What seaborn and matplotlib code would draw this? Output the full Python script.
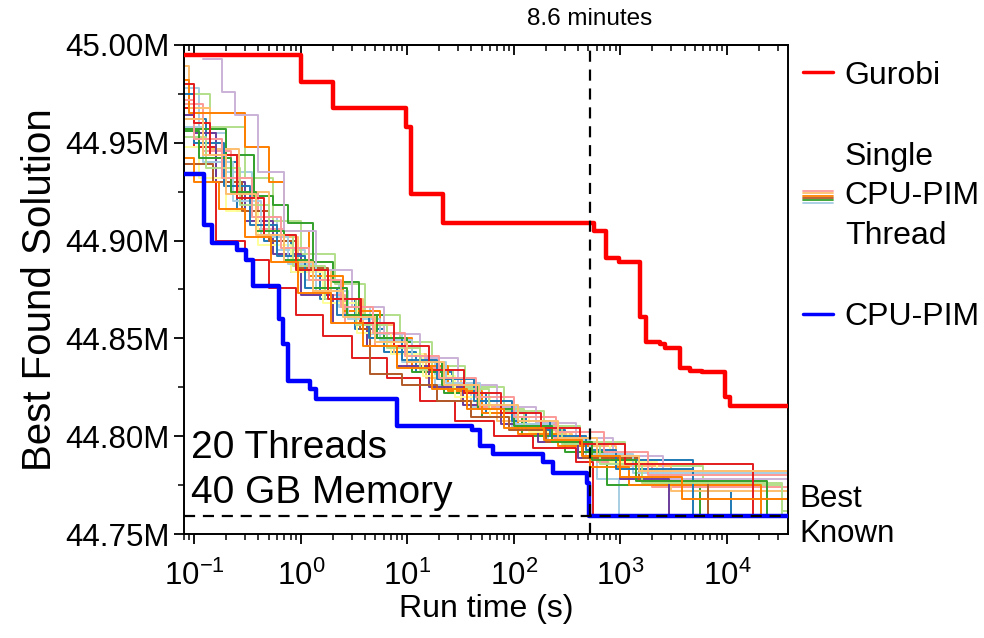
import matplotlib
matplotlib.use("Agg")
import matplotlib.pyplot as plt
import matplotlib.transforms as mtransforms
from matplotlib.lines import Line2D
from matplotlib.legend_handler import HandlerBase
from matplotlib.ticker import FuncFormatter, MultipleLocator
import pandas as pd
import seaborn as sns

# Gurobi run (seconds, best objective in millions)
gurobi_t = [0.08, 1.0, 2.0, 9.8, 10.8, 21.8, 564, 731, 980, 1524, 1734, 2350,
            2617, 3614, 4487, 5780, 9550, 10650, 40000]
gurobi_v = [44.995, 44.981, 44.968, 44.958, 44.924, 44.909, 44.905, 44.891,
            44.889, 44.861, 44.848, 44.847, 44.845, 44.835, 44.8335, 44.833,
            44.820, 44.8155, 44.8155]

# CPU-PIM with 20 threads
cpupim_t = [0.08, 0.122, 0.148, 0.251, 0.307, 0.359, 0.63, 0.687, 0.765, 1.22,
            1.38, 7.94, 40.2, 48, 63, 186, 235, 482, 505, 40000]
cpupim_v = [44.934, 44.908, 44.899, 44.895, 44.890, 44.877, 44.860, 44.847,
            44.828, 44.824, 44.819, 44.805, 44.803, 44.795, 44.791, 44.787,
            44.781, 44.776, 44.759, 44.759]

# single CPU-PIM threads
single_t = [
    [0.08, 0.11, 0.2, 0.35, 0.6, 1.1, 2.3, 4.5, 9, 18, 40, 95, 210, 480, 600, 960, 40000],
    [0.08, 0.13, 0.25, 0.45, 0.8, 1.5, 3.2, 6, 12, 26, 55, 130, 300, 700, 4800, 11000, 40000],
    [0.08, 0.14, 0.3, 0.55, 1.0, 2.1, 4.0, 8.5, 17, 35, 80, 190, 420, 1100, 6000, 33000, 40000],
    [0.08, 0.2, 0.36, 0.55, 0.75, 1.3, 2.0, 3.5, 6, 11, 22, 50, 120, 300, 750, 5600, 40000],
    [0.08, 0.12, 0.22, 0.4, 0.7, 1.3, 2.6, 5, 10, 21, 45, 100, 240, 600, 2000, 40000],
    [0.08, 0.1, 0.16, 0.3, 0.5, 0.9, 1.6, 3, 6.5, 13, 28, 65, 150, 380, 550, 40000],
    [0.08, 0.09, 0.14, 0.26, 0.5, 0.95, 1.9, 3.8, 7.5, 15, 32, 70, 160, 350, 900, 3000, 40000],
    [0.08, 0.09, 0.3, 0.5, 0.7, 1.2, 2.5, 5.5, 11, 24, 50, 110, 260, 520, 1200, 21000, 40000],
    [0.12, 0.18, 0.24, 0.4, 0.7, 1.4, 3, 6, 13, 30, 70, 160, 380, 850, 2500, 40000],
    [0.08, 0.1, 0.16, 0.3, 0.55, 1.0, 2.0, 4.2, 8, 16, 33, 75, 170, 400, 1000, 2850, 40000],
    [0.08, 0.11, 0.2, 0.4, 0.8, 1.6, 3.4, 7, 14, 28, 60, 140, 320, 800, 2200, 40000],
    [0.08, 0.15, 0.28, 0.5, 0.9, 1.8, 3.6, 4.5, 9, 19, 40, 90, 200, 450, 1500, 6700, 40000],
    [0.08, 0.12, 0.23, 0.42, 0.75, 1.4, 2.8, 5.5, 11, 23, 48, 105, 230, 520, 1300, 40000],
    [0.08, 0.1, 0.19, 0.33, 0.6, 1.1, 2.2, 4.4, 9, 19, 42, 95, 220, 480, 900, 4800, 40000],
    [0.08, 0.13, 0.27, 0.5, 0.85, 1.7, 3.3, 6.5, 13, 27, 58, 125, 280, 640, 1600, 33000, 40000],
    [0.08, 0.11, 0.22, 0.38, 0.7, 1.3, 2.7, 5.2, 10, 21, 46, 100, 230, 540, 1400, 24000, 40000],
    [0.08, 0.1, 0.18, 0.35, 0.65, 1.2, 2.4, 4.8, 9.5, 20, 44, 100, 250, 700, 1800, 40000],
    [0.08, 0.1, 0.14, 0.25, 0.45, 0.9, 1.8, 3.7, 7.5, 16, 34, 75, 180, 420, 1100, 17500, 40000],
    [0.08, 0.12, 0.2, 0.38, 0.7, 1.3, 2.5, 5, 10, 22, 47, 110, 260, 600, 1500, 40000],
    [0.08, 0.1, 0.17, 0.3, 0.52, 0.95, 1.9, 3.8, 8, 17, 36, 80, 190, 440, 1000, 3800, 40000],
]
single_v = [
    [44.978, 44.955, 44.935, 44.912, 44.895, 44.880, 44.866, 44.852, 44.838, 44.826, 44.815, 44.804, 44.797, 44.790, 44.778, 44.759, 44.759],
    [44.962, 44.940, 44.915, 44.900, 44.884, 44.870, 44.855, 44.843, 44.833, 44.822, 44.812, 44.803, 44.796, 44.788, 44.772, 44.759, 44.759],
    [44.975, 44.958, 44.932, 44.910, 44.893, 44.878, 44.862, 44.848, 44.836, 44.825, 44.813, 44.805, 44.797, 44.785, 44.775, 44.759, 44.759],
    [44.957, 44.944, 44.923, 44.918, 44.909, 44.889, 44.879, 44.862, 44.848, 44.833, 44.822, 44.810, 44.800, 44.792, 44.775, 44.759, 44.759],
    [44.970, 44.946, 44.925, 44.906, 44.890, 44.872, 44.858, 44.846, 44.835, 44.826, 44.815, 44.806, 44.799, 44.787, 44.774, 44.774],
    [44.968, 44.948, 44.900, 44.890, 44.876, 44.862, 44.851, 44.840, 44.830, 44.818, 44.808, 44.800, 44.794, 44.787, 44.759, 44.759],
    [44.989, 44.968, 44.947, 44.925, 44.902, 44.885, 44.870, 44.857, 44.842, 44.830, 44.818, 44.808, 44.801, 44.795, 44.785, 44.772, 44.772],
    [44.982, 44.965, 44.948, 44.930, 44.905, 44.882, 44.864, 44.850, 44.836, 44.823, 44.812, 44.801, 44.795, 44.784, 44.775, 44.759, 44.759],
    [44.993, 44.976, 44.964, 44.935, 44.905, 44.885, 44.866, 44.852, 44.840, 44.826, 44.815, 44.807, 44.799, 44.790, 44.778, 44.778],
    [44.964, 44.955, 44.930, 44.910, 44.893, 44.872, 44.858, 44.846, 44.836, 44.825, 44.816, 44.806, 44.797, 44.789, 44.778, 44.759, 44.759],
    [44.948, 44.932, 44.915, 44.898, 44.884, 44.868, 44.853, 44.842, 44.831, 44.820, 44.810, 44.802, 44.796, 44.787, 44.780, 44.780],
    [44.939, 44.930, 44.915, 44.900, 44.886, 44.870, 44.855, 44.832, 44.826, 44.818, 44.810, 44.803, 44.797, 44.789, 44.777, 44.759, 44.759],
    [44.958, 44.940, 44.920, 44.902, 44.888, 44.874, 44.860, 44.849, 44.838, 44.827, 44.816, 44.806, 44.798, 44.791, 44.781, 44.781],
    [44.975, 44.950, 44.928, 44.908, 44.892, 44.876, 44.862, 44.850, 44.839, 44.829, 44.818, 44.808, 44.800, 44.793, 44.783, 44.759, 44.759],
    [44.953, 44.937, 44.918, 44.903, 44.887, 44.870, 44.857, 44.845, 44.834, 44.824, 44.814, 44.805, 44.796, 44.786, 44.776, 44.762, 44.762],
    [44.956, 44.942, 44.925, 44.905, 44.890, 44.876, 44.862, 44.850, 44.838, 44.826, 44.814, 44.805, 44.797, 44.788, 44.777, 44.759, 44.759],
    [44.972, 44.952, 44.932, 44.912, 44.896, 44.880, 44.866, 44.853, 44.841, 44.830, 44.820, 44.810, 44.802, 44.792, 44.780, 44.780],
    [44.980, 44.960, 44.944, 44.922, 44.903, 44.885, 44.870, 44.858, 44.846, 44.834, 44.822, 44.812, 44.804, 44.796, 44.786, 44.759, 44.759],
    [44.962, 44.944, 44.924, 44.903, 44.889, 44.874, 44.861, 44.848, 44.838, 44.826, 44.816, 44.808, 44.799, 44.790, 44.782, 44.782],
    [44.942, 44.930, 44.916, 44.902, 44.889, 44.873, 44.858, 44.846, 44.835, 44.824, 44.814, 44.804, 44.798, 44.790, 44.779, 44.768, 44.768],
]

best_known = 44.759
cutoff_s = 516  # 8.6 minutes

sns.set_style("ticks")
plt.rcParams["font.family"] = ["Liberation Sans", "DejaVu Sans"]
plt.rcParams["mathtext.fontset"] = "custom"
plt.rcParams["mathtext.rm"] = "Liberation Sans"
plt.rcParams["mathtext.it"] = "Liberation Sans:italic"
plt.rcParams.update({"text.color": "black", "axes.labelcolor": "black",
                     "xtick.color": "black", "ytick.color": "black",
                     "axes.edgecolor": "black"})

# long-format table for the single threads
rows = []
for i, (ts, vs) in enumerate(zip(single_t, single_v)):
    for t, v in zip(ts, vs):
        rows.append({"thread": i, "time": t, "value": v})
singles = pd.DataFrame(rows)

paired = sns.color_palette("Paired", 12)
thread_colors = [paired[i % 12] for i in range(len(single_t))]

fig = plt.figure(figsize=(9.84, 6.38), dpi=100)
ax = fig.add_axes([0.187, 0.163, 0.614, 0.7665])

sns.lineplot(data=singles, x="time", y="value", hue="thread", units="thread",
             estimator=None, palette=thread_colors, drawstyle="steps-post",
             linewidth=1.4, legend=False, ax=ax, zorder=2)
sns.lineplot(x=gurobi_t, y=gurobi_v, drawstyle="steps-post", color="#ff0000",
             linewidth=3.2, estimator=None, ax=ax, zorder=3)
sns.lineplot(x=cpupim_t, y=cpupim_v, drawstyle="steps-post", color="#0000ff",
             linewidth=3.2, estimator=None, ax=ax, zorder=3)

ax.axhline(best_known, color="black", linestyle=(0, (5, 3.5)), linewidth=1.6, zorder=4)
ax.axvline(cutoff_s, color="black", linestyle=(0, (5, 3.5)), linewidth=1.6, zorder=4)

ax.set_xscale("log")
ax.set_xlim(0.08, 37600)
ax.set_ylim(44.75, 45.00)
ax.yaxis.set_major_locator(MultipleLocator(0.05))
ax.yaxis.set_minor_locator(MultipleLocator(0.025))
ax.yaxis.set_major_formatter(FuncFormatter(lambda v, p: f"{v:.2f}M"))

for s in ax.spines.values():
    s.set_linewidth(1.4)
ax.tick_params(axis="both", which="major", labelsize=22.5, length=7, width=1.3,
               direction="out")
ax.tick_params(axis="x", which="major", pad=12)
ax.tick_params(axis="both", which="minor", length=4, width=1.1, direction="out")
top = ax.secondary_xaxis("top")
top.tick_params(axis="x", which="major", direction="in", length=7, width=1.3, labeltop=False)
top.tick_params(axis="x", which="minor", direction="in", length=4, width=1.1)
top.spines["top"].set_linewidth(1.4)

ax.set_xlabel("Run time (s)", fontsize=23, labelpad=2)
ax.set_ylabel("Best Found Solution", fontsize=29, labelpad=4)

ax.text(0.012, 0.13, "20 Threads\n40 GB Memory", transform=ax.transAxes,
        fontsize=28, va="center", ha="left", linespacing=1.35)
ax.text(cutoff_s, 1.03, "8.6 minutes", transform=ax.get_xaxis_transform(),
        fontsize=17.5, ha="center", va="bottom")
right_trans = mtransforms.blended_transform_factory(ax.transAxes, ax.transData)
ax.text(1.018, best_known, "Best\nKnown", transform=right_trans, fontsize=22.5,
        ha="left", va="center", linespacing=1.2)


class MultiLine:
    def __init__(self, colors):
        self.colors = colors


class HandlerMultiLine(HandlerBase):
    def create_artists(self, legend, orig_handle, xdescent, ydescent, width,
                       height, fontsize, trans):
        n = len(orig_handle.colors)
        gap = 1.7
        y0 = height / 2 - ydescent + gap * (n - 1) / 2
        arts = []
        for k, c in enumerate(orig_handle.colors):
            y = y0 - k * gap
            ln = Line2D([-xdescent, -xdescent + width], [y, y], color=c, lw=1.3)
            ln.set_transform(trans)
            arts.append(ln)
        return arts


legend_colors = [paired[4], paired[6], paired[7], paired[11], paired[3], paired[0]]
handles = [Line2D([], [], color="#ff0000", lw=2.5),
           MultiLine(legend_colors),
           Line2D([], [], color="#0000ff", lw=2.5)]
labels = ["Gurobi", "Single\nCPU-PIM\nThread", "CPU-PIM"]
leg = fig.legend(handles, labels, loc="upper left", bbox_to_anchor=(0.816, 0.905),
                 frameon=False, fontsize=23, handlelength=0.94, handletextpad=0.37,
                 labelspacing=1.6, borderpad=0, borderaxespad=0,
                 handler_map={MultiLine: HandlerMultiLine()})
for t in leg.get_texts():
    t.set_linespacing(1.42)

fig.savefig("out.png", dpi=100)
